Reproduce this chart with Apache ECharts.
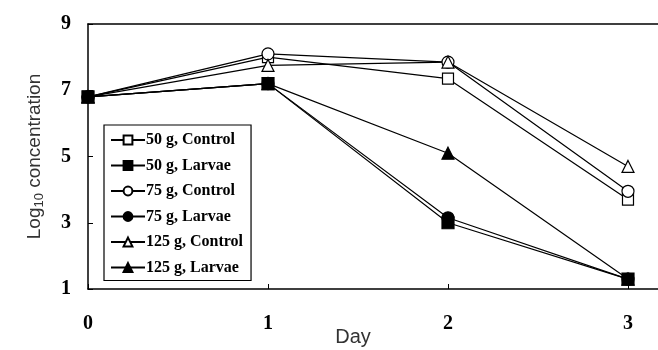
<!DOCTYPE html>
<html>
<head>
<meta charset="utf-8">
<script src="https://cdn.jsdelivr.net/npm/echarts@6/dist/echarts.min.js"></script>
<style>
  html, body { margin: 0; padding: 0; background: #fff; }
  #item { width: 658px; height: 350px; }
</style>
</head>
<body>
<div id="item"></div>
<script>
	var item = echarts.init(document.getElementById('item'));
	/*-- 天数 --*/
	let days = [0, 1, 2, 3];
	/*-- 数据 --*/
	let c50 = [6.8, 8.0, 7.35, 3.7];
	let l50 = [6.8, 7.2, 3.0, 1.3];
	let c75 = [6.8, 8.1, 7.85, 3.95];
	let l75 = [6.8, 7.2, 3.15, 1.3];
	let c125 = [6.8, 7.75, 7.85, 4.7];
	let l125 = [6.8, 7.2, 5.1, 1.3];
	let yTicks = [1, 3, 5, 7, 9];

	let serif = 'Liberation Serif';

	// 组合 [x, y]
	function pts(arr) {
		return days.map(function (d, i) { return [d, arr[i]]; });
	}
	function mk(name, arr, symbol, filled, size) {
		return {
			name: name,
			type: 'line',
			data: pts(arr),
			symbol: symbol,
			symbolSize: size,
			showSymbol: true,
			lineStyle: { color: '#000', width: 1.2 },
			itemStyle: {
				color: filled ? '#000' : '#fff',
				borderColor: '#000',
				borderWidth: 1.2
			},
			z: filled ? 3 : 2,
			animation: false
		};
	}

	let _item = {
		backgroundColor: '#fff',
		grid: { left: 88, right: 0, top: 24, bottom: 61, outerBoundsMode: 'none', containLabel: false },
		legend: {
			orient: 'vertical',
			left: 104,
			top: 125,
			width: 154,
			itemWidth: 34,
			itemHeight: 11,
			itemGap: 9.5,
			padding: [7, 8, 5, 6],
			borderColor: '#000',
			borderWidth: 1.2,
			backgroundColor: '#fff',
			textStyle: { fontFamily: serif, fontWeight: 'bold', fontSize: 16, lineHeight: 16, color: '#000', padding: [0, 0, 0, -4] },
			data: ['50 g, Control', '50 g, Larvae', '75 g, Control', '75 g, Larvae', '125 g, Control', '125 g, Larvae']
		},
		xAxis: [{
			type: 'value',
			min: 0,
			max: 3.1667,
			interval: 1,
			name: 'Day',
			nameLocation: 'middle',
			nameGap: 38,
			nameMoveOverlap: false,
			nameTextStyle: { fontFamily: 'Liberation Sans', fontSize: 20, color: '#333', padding: [0, 40, 0, 0] },
			axisLine: { show: true, lineStyle: { color: '#000', width: 1.5 } },
			axisTick: { show: true, inside: true, length: 5, lineStyle: { color: '#000' } },
			axisLabel: {
				margin: 25,
				fontFamily: serif, fontWeight: 'bold', fontSize: 20, color: '#000',
				formatter: function (v) { return Number.isInteger(v) ? String(v) : ''; }
			},
			splitLine: { show: false }
		}, {
			type: 'value',
			position: 'top',
			min: 0,
			max: 3.1667,
			axisLine: { show: true, lineStyle: { color: '#000', width: 1.5 } },
			axisTick: { show: false },
			axisLabel: { show: false },
			splitLine: { show: false }
		}],
		yAxis: {
			type: 'value',
			min: 1,
			max: 9,
			interval: 2,
			name: '{a|Log}{s|10}{a| concentration}',
			nameLocation: 'middle',
			nameGap: 42,
			nameMoveOverlap: false,
			nameRotate: 90,
			nameTextStyle: {
				rich: {
					a: { fontFamily: 'Liberation Sans', fontSize: 19, color: '#333' },
					s: { fontFamily: 'Liberation Sans', fontSize: 13, color: '#333', verticalAlign: 'bottom', padding: [9, 0, 0, 0] }
				}
			},
			axisLine: { show: true, lineStyle: { color: '#000', width: 1.5 } },
			axisTick: { show: true, inside: true, length: 5, lineStyle: { color: '#000' } },
			axisLabel: {
				margin: 17,
				fontFamily: serif, fontWeight: 'bold', fontSize: 20, color: '#000',
				formatter: function (v) { return yTicks.indexOf(v) >= 0 ? String(v) : ''; }
			},
			splitLine: { show: false }
		},
		series: [
			mk('50 g, Control', c50, 'rect', false, 11),
			mk('50 g, Larvae', l50, 'rect', true, 12),
			mk('75 g, Control', c75, 'circle', false, 12),
			mk('75 g, Larvae', l75, 'circle', true, 12),
			mk('125 g, Control', c125, 'triangle', false, 12),
			mk('125 g, Larvae', l125, 'triangle', true, 12)
		]
	};
	item.setOption(_item);
</script>
</body>
</html>
